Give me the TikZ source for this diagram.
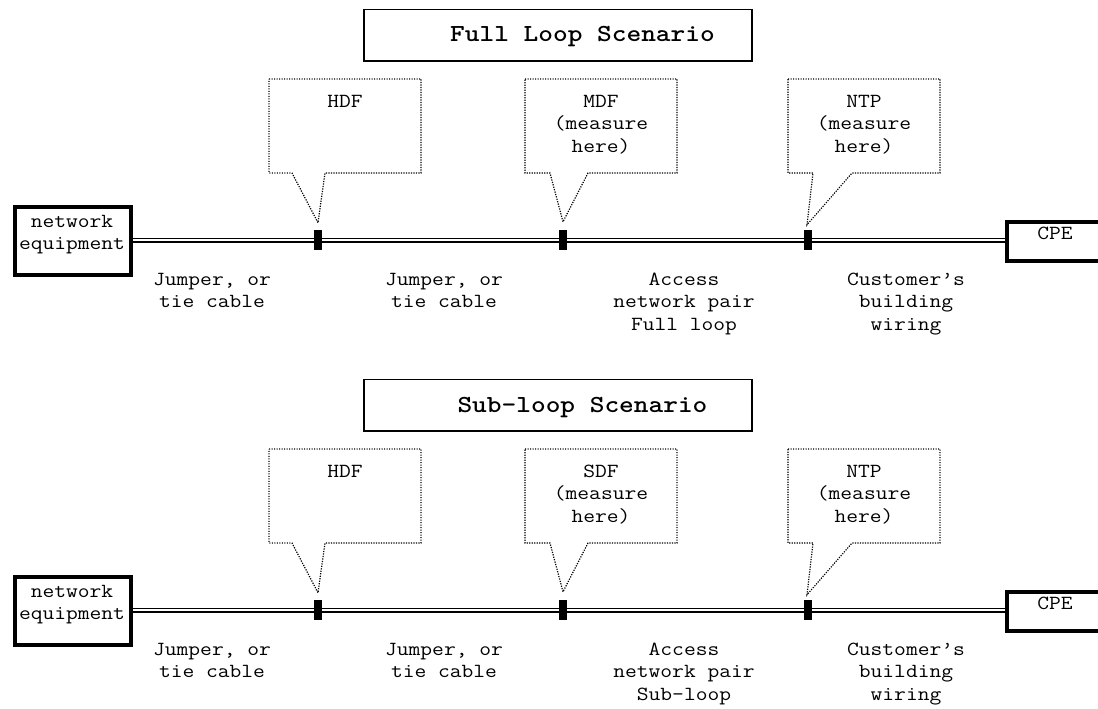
\documentclass[tikz,border=0pt]{standalone}
\usepackage{fontspec}
\setmonofont{Latin Modern Mono}[FakeStretch=1.143]
\newfontfamily\ttlfont{Latin Modern Mono Light}[FakeStretch=1.143]
\tikzset{
  x=1pt, y=-1pt,
  txt/.style={font=\ttfamily\fontsize{20}{22.4}\selectfont, inner sep=0pt, align=center},
  ttl/.style={font=\ttlfont\bfseries\fontsize{24.5}{28}\selectfont, inner sep=0pt},
  tbox/.style={draw, line width=1.4pt, minimum width=388pt, minimum height=51.5pt, inner sep=0pt},
  eqbox/.style={draw, line width=4pt, inner sep=0pt},
  cable/.style={draw, double, double distance=1.4pt, line width=1.8pt},
  joint/.style={fill=black, minimum width=8pt, minimum height=20pt, inner sep=0pt},
  callout/.style={draw, line width=1.2pt, dash pattern=on 1.2pt off 1.3pt},
}
\newcommand\strutA{\rule{0pt}{18pt}}
\newcommand\scenariodraw[5]{%
\begin{scope}[yshift=#2]
  % title
  \node[tbox] (#1-tbox) at (558,35.3) {};
  \node[ttl, anchor=base] (#1-title) at (582.5,42) {#3};
  % equipment boxes
  \node[eqbox, minimum width=116pt, minimum height=68pt] (#1-net) at (73,241) {};
  \node[txt, anchor=north] (#1-nettxt) at (72,209) {\strutA network\\equipment};
  \node[eqbox, minimum width=113pt, minimum height=39pt] (#1-cpe) at (1063.5,241.5) {};
  \node[txt, anchor=base] (#1-cpetxt) at (1055,239) {CPE};
  % cable
  \coordinate (#1-a) at (#1-net.east |- 0,240);
  \coordinate (#1-b) at (#1-cpe.west |- 0,240);
  \path[cable] (#1-a) -- (#1-b);
  % joints
  \node[joint] (#1-j1) at (318,240) {};
  \node[joint] (#1-j2) at (563,240) {};
  \node[joint] (#1-j3) at (808,240) {};
  % callout tips
  \coordinate (#1-t1) at ([yshift=7pt]#1-j1.north);
  \coordinate (#1-t2) at ([yshift=8pt]#1-j2.north);
  \coordinate (#1-t3) at ([xshift=-1pt,yshift=5pt]#1-j3.north);
  % callouts
  \path[callout] (269,79) -- (421,79) -- (421,173) -- (325,173) -- (#1-t1) -- (292,173) -- (269,173) -- cycle;
  \path[callout] (525,79) -- (677,79) -- (677,173) -- (588,173) -- (#1-t2) -- (550,173) -- (525,173) -- cycle;
  \path[callout] (788,79) -- (940,79) -- (940,173) -- (852,173) -- (#1-t3) -- (813,173) -- (788,173) -- cycle;
  \node[txt, anchor=north] (#1-c1) at (345,89) {\strutA HDF};
  \node[txt, anchor=north] (#1-c2) at (601,89) {\strutA #4\\(measure\\here)};
  \node[txt, anchor=north] (#1-c3) at (864,89) {\strutA NTP\\(measure\\here)};
  % labels
  \node[txt, anchor=north] (#1-l1) at (212,267) {\strutA Jumper, or\\tie cable};
  \node[txt, anchor=north] (#1-l2) at (444,267) {\strutA Jumper, or\\tie cable};
  \node[txt, anchor=north] (#1-l3) at (684,267) {\strutA Access\\network pair\\#5};
  \node[txt, anchor=north] (#1-l4) at (906,267) {\strutA Customer’s\\building\\wiring};
\end{scope}}
\begin{document}
\begin{tikzpicture}
  \useasboundingbox[fill=white] (0,0) rectangle (1098,709);
  \scenariodraw{f}{0pt}{Full Loop Scenario}{MDF}{Full loop}
  \scenariodraw{s}{-370pt}{Sub-loop Scenario}{SDF}{Sub-loop}
\end{tikzpicture}
\end{document}
